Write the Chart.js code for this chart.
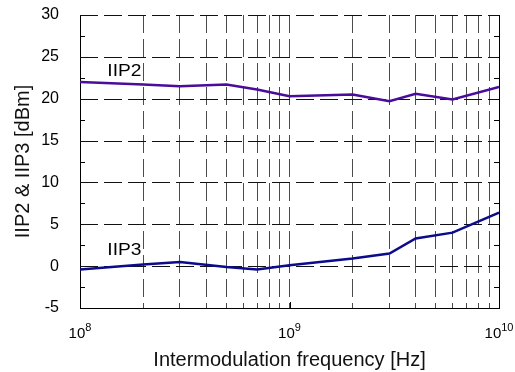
<!DOCTYPE html>
<html>
<head>
<meta charset="utf-8">
<script src="https://cdn.jsdelivr.net/npm/chart.js@4.4.1/dist/chart.umd.min.js"></script>
<style>
  html, body { margin: 0; padding: 0; background: #fff; }
</style>
</head>
<body>
<canvas id="iipChart" width="515" height="372"></canvas>
<script>
// ===== IIP2 / IIP3 vs intermodulation frequency =====
const freqHz = [1e8, 2e8, 3e8, 5e8, 7e8, 1e9, 2e9, 3e9, 4e9, 6e9, 1e10];
const iip2 = [22.0, 21.7, 21.5, 21.7, 21.1, 20.3, 20.5, 19.7, 20.6, 19.9, 21.4];
const iip3 = [-0.4, 0.2, 0.5, -0.1, -0.4, 0.1, 0.9, 1.5, 3.3, 4.0, 6.4];

const decades = [1e8, 1e9, 1e10];
const decadeExp = ["8", "9", "10"];
const yTicks = [-5, 0, 5, 10, 15, 20, 25, 30];
const yMinor = [-2.5, 2.5, 7.5, 12.5, 17.5, 22.5, 27.5];

const FONT = "'Liberation Sans', Arial, Helvetica, sans-serif";

// log grid: 1..9 x 10^n
const xGrid = [];
for (let e = 8; e < 10; e++) {
  for (let m = 1; m < 10; m++) xGrid.push(m * Math.pow(10, e));
}
xGrid.push(1e10);

const ctx = document.getElementById("iipChart").getContext("2d");

// horizontal dashed grid
const hGrid = {
  id: "hGrid",
  beforeDatasetsDraw(chart) {
    const { ctx, chartArea: a, scales: { y } } = chart;
    ctx.save();
    ctx.strokeStyle = "#111";
    ctx.lineWidth = 1;
    ctx.setLineDash([18, 6]);
    yTicks.forEach(v => {
      if (v === -5) return;
      const py = Math.round(y.getPixelForValue(v)) + 0.5;
      ctx.beginPath();
      ctx.moveTo(a.left, py);
      ctx.lineTo(a.right, py);
      ctx.stroke();
    });
    ctx.restore();
  }
};

// 10^n labels, inward minor ticks and the series names
const extras = {
  id: "extras",
  afterDraw(chart) {
    const { ctx, chartArea: a, scales: { x, y } } = chart;
    ctx.save();

    ctx.strokeStyle = "#000";
    ctx.lineWidth = 1;
    ctx.beginPath();
    yMinor.forEach(v => {
      const py = Math.round(y.getPixelForValue(v)) + 0.5;
      ctx.moveTo(a.left, py); ctx.lineTo(a.left + 5, py);
      ctx.moveTo(a.right, py); ctx.lineTo(a.right - 5, py);
    });
    decades.forEach(v => {
      const px = Math.round(x.getPixelForValue(v)) + 0.5;
      ctx.moveTo(px, a.bottom); ctx.lineTo(px, a.bottom - 6);
    });
    ctx.stroke();

    ctx.fillStyle = "#000";
    ctx.textBaseline = "alphabetic";
    ctx.textAlign = "left";
    decades.forEach((v, i) => {
      const px = x.getPixelForValue(v);
      ctx.font = "15px " + FONT;
      const wBase = ctx.measureText("10").width;
      ctx.font = "11px " + FONT;
      const wExp = ctx.measureText(decadeExp[i]).width;
      const x0 = px - (wBase + wExp) / 2;
      ctx.font = "15px " + FONT;
      ctx.fillText("10", x0, a.bottom + 30);
      ctx.font = "11px " + FONT;
      ctx.fillText(decadeExp[i], x0 + wBase, a.bottom + 23);
    });

    const names = [["IIP2", 1.35e8, 22.7], ["IIP3", 1.35e8, 1.3]];
    ctx.font = "16px " + FONT;
    names.forEach(([t, fx, fy]) => {
      ctx.save();
      ctx.translate(x.getPixelForValue(fx), y.getPixelForValue(fy));
      ctx.scale(1.2, 1);
      ctx.fillText(t, 0, 0);
      ctx.restore();
    });
    ctx.restore();
  }
};

new Chart(ctx, {
  type: "line",
  data: {
    datasets: [
      {
        label: "IIP2",
        data: freqHz.map((f, i) => ({ x: f, y: iip2[i] })),
        borderColor: "#4a0c9a",
        borderWidth: 2.5,
        pointRadius: 0,
        tension: 0,
      },
      {
        label: "IIP3",
        data: freqHz.map((f, i) => ({ x: f, y: iip3[i] })),
        borderColor: "#0b0b8c",
        borderWidth: 2.5,
        pointRadius: 0,
        tension: 0,
      },
    ],
  },
  options: {
    responsive: false,
    animation: false,
    layout: { padding: { top: 15, right: 0, bottom: 0, left: 0 } },
    plugins: {
      legend: { display: false },
      tooltip: { enabled: false },
    },
    scales: {
      x: {
        type: "logarithmic",
        min: 1e8,
        max: 1e10,
        afterBuildTicks: s => { s.ticks = xGrid.map(v => ({ value: v })); },
        afterFit: s => { s.height = 64; s.paddingLeft = 0; s.paddingRight = 0; },
        ticks: { display: false },
        grid: { color: "rgba(0,0,0,0.7)", lineWidth: 1, drawTicks: false },
        border: { display: true, color: "#000", width: 1, dash: [18, 6] },
        title: {
          display: true,
          text: "Intermodulation frequency [Hz]",
          color: "#111",
          font: { family: FONT, size: 20 },
          padding: { top: 0, bottom: 0 },
        },
      },
      y: {
        min: -5,
        max: 30,
        afterBuildTicks: s => { s.ticks = yTicks.map(v => ({ value: v })); },
        afterFit: s => { s.width = 80; s.paddingTop = 0; s.paddingBottom = 0; },
        ticks: {
          color: "#000",
          padding: 13,
          font: { family: FONT, size: 16 },
        },
        grid: { display: false },
        border: { display: true, color: "#000", width: 1 },
        title: {
          display: true,
          text: "IIP2 & IIP3 [dBm]",
          color: "#111",
          font: { family: FONT, size: 20 },
          padding: { top: 11, bottom: 0 },
        },
      },
      y2: {
        position: "right",
        min: -5,
        max: 30,
        afterFit: s => { s.width = 16; s.paddingTop = 0; s.paddingBottom = 0; },
        ticks: { display: false },
        grid: { display: false, drawTicks: false },
        border: { display: true, color: "#000", width: 1 },
      },
    },
  },
  plugins: [hGrid, extras],
});
</script>
</body>
</html>
